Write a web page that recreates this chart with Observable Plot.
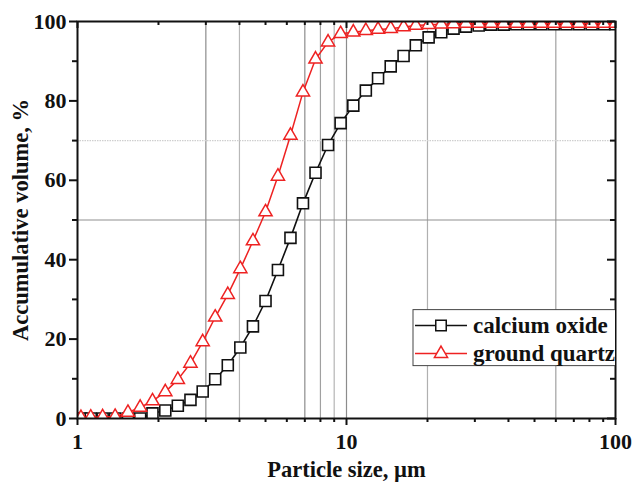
<!DOCTYPE html>
<html>
<head>
<meta charset="utf-8">
<script src="https://cdn.jsdelivr.net/npm/d3@7"></script>
<script src="https://cdn.jsdelivr.net/npm/@observablehq/plot@0.6"></script>
<style>
  html, body { margin: 0; padding: 0; background: #fff; }
</style>
</head>
<body>
<div id="chart"></div>
<script>
// ---- data ----
const sizes = [1.03, 1.12, 1.24, 1.38, 1.54, 1.71, 1.90, 2.12, 2.36, 2.63, 2.92, 3.25, 3.62, 4.03, 4.49, 5.00, 5.56, 6.19, 6.89, 7.67, 8.54, 9.51, 10.6, 11.8, 13.1, 14.6, 16.3, 18.1, 20.2, 22.5, 25.0, 27.8, 31.0, 34.5, 38.4, 42.8, 47.6, 53.0, 59.0, 65.7, 73.2, 81.5, 90.7, 100];
const calciumOxide = [0, 0, 0, 0, 0, 0, 1.3, 2.0, 3.2, 4.7, 6.8, 9.9, 13.4, 17.9, 23.2, 29.6, 37.4, 45.5, 54.2, 61.9, 68.9, 74.4, 78.8, 82.6, 85.7, 88.7, 91.3, 94.0, 96.0, 97.3, 98.2, 98.7, 99.0, 99.2, 99.2, 99.3, 99.3, 99.3, 99.3, 99.3, 99.3, 99.3, 99.3, 99.3];
const groundQuartz = [0.2, 0.3, 0.4, 0.5, 1.5, 2.8, 4.4, 6.7, 9.8, 13.9, 19.3, 25.5, 31.2, 37.7, 44.7, 52.0, 61.0, 71.3, 82.2, 90.5, 94.8, 96.9, 97.3, 97.7, 98.0, 98.2, 98.6, 99.0, 99.2, 99.3, 99.4, 99.5, 99.5, 99.5, 99.5, 99.5, 99.5, 99.5, 99.5, 99.5, 99.5, 99.5, 99.5, 99.5];
const seriesNames = ["calcium oxide", "ground quartz"];
const xMajorTicks = [1, 10, 100];
const xMinorTicks = [2, 3, 4, 5, 6, 7, 8, 9, 20, 30, 40, 50, 60, 70, 80, 90];
const yMajorTicks = [0, 20, 40, 60, 80, 100];
const yMinorTicks = [10, 30, 50, 70, 90];
const gridX = [3, 4, 7, 8, 9, 10, 20, 60];
const gridXColors = ["#8c8c8c", "#b8b8b8", "#8c8c8c", "#a0a0a0", "#b4b4b4", "#8c8c8c", "#b0b0b0", "#a0a0a0"];
const xLabel = "Particle size, \u00b5m";
const yLabel = "Accumulative volume, %";

// ---- table ----
const rows = (name, vals) => sizes.map((s, i) => ({series: name, size: s, value: vals[i]}));
const caRows = rows(seriesNames[0], calciumOxide);
const qzRows = rows(seriesNames[1], groundQuartz);

// ---- layout ----
const W = 634, H = 482;
const mTop = 21, mRight = 19, mBottom = 64, mLeft = 77;
const plotW = W - mLeft - mRight, plotH = H - mTop - mBottom;
const FONT = "'Liberation Serif', 'Times New Roman', serif";
const RED = "#ee2222";
const BLACK = "#111";

function legendMark(index, scales, values, dimensions) {
  const {width, marginRight, marginTop} = dimensions;
  const right = width - marginRight;
  const g = d3.create("svg:g");
  const clipId = "legclip";
  g.append("clipPath").attr("id", clipId).append("rect")
    .attr("x", mLeft).attr("y", marginTop).attr("width", right - mLeft).attr("height", plotH);
  const box = g.append("g").attr("clip-path", `url(#${clipId})`);
  const x0 = right - 202, y0 = scales.y(27.3);
  box.append("rect").attr("x", x0).attr("y", y0).attr("width", 210).attr("height", 56)
    .attr("fill", "white").attr("stroke", "#444").attr("stroke-width", 1);
  const entries = [
    {name: seriesNames[0], color: BLACK, sym: d3.symbolSquare, dy: 16},
    {name: seriesNames[1], color: RED, sym: d3.symbolTriangle, dy: 44}
  ];
  for (const e of entries) {
    const yy = y0 + e.dy;
    box.append("line").attr("x1", x0 + 2).attr("x2", x0 + 54).attr("y1", yy).attr("y2", yy)
      .attr("stroke", e.color).attr("stroke-width", 1.5);
    box.append("path").attr("d", d3.symbol(e.sym, e.sym === d3.symbolSquare ? 110 : 75)())
      .attr("transform", `translate(${x0 + 28},${yy})`)
      .attr("fill", "white").attr("stroke", e.color).attr("stroke-width", 1.5);
    box.append("text").attr("x", x0 + 60).attr("y", yy).attr("dy", "0.33em")
      .attr("text-anchor", "start")
      .attr("font-family", FONT).attr("font-weight", "bold").attr("font-size", 23)
      .attr("fill", "#111").text(e.name);
  }
  return g.node();
}

const chart = Plot.plot({
  width: W,
  height: H,
  marginTop: mTop, marginRight: mRight, marginBottom: mBottom, marginLeft: mLeft,
  style: {fontFamily: FONT, fontWeight: "bold", background: "white", color: "#111"},
  x: {type: "log", domain: [1, 100], axis: null},
  y: {domain: [0, 100], axis: null},
  marks: [
    // reference grid lines
    Plot.ruleX(gridX, {x: d => d, stroke: (d, i) => gridXColors[i], strokeWidth: 1.2}),
    Plot.ruleY([70], {stroke: "#cfcfcf", strokeWidth: 1.2, strokeDasharray: "1.5,1"}),
    Plot.ruleY([50], {stroke: "#8f8f8f", strokeWidth: 1.2}),
    // series
    Plot.line(caRows, {x: "size", y: "value", stroke: BLACK, strokeWidth: 1.6, clip: true}),
    Plot.dot(caRows, {x: "size", y: "value", symbol: "square", r: 6.2, fill: "white", stroke: BLACK, strokeWidth: 1.6, clip: true}),
    Plot.line(qzRows, {x: "size", y: "value", stroke: RED, strokeWidth: 1.5, clip: true}),
    Plot.dot(qzRows, {x: "size", y: "value", symbol: "triangle", r: 4.9, fill: "white", stroke: RED, strokeWidth: 1.5, clip: true}),
    // bottom axis (outward ticks)
    Plot.axisX({ticks: xMajorTicks, tickSize: 7, tickPadding: 8, strokeWidth: 2, fontSize: 22, tickFormat: d => String(d), label: null}),
    Plot.axisX({ticks: xMinorTicks, tickSize: 4, strokeWidth: 2, tickFormat: () => "", label: null}),
    // top axis (inward ticks)
    Plot.tickX(xMajorTicks, {x: d => d, insetBottom: plotH - 7, strokeWidth: 2, stroke: BLACK}),
    Plot.tickX(xMinorTicks, {x: d => d, insetBottom: plotH - 4, strokeWidth: 2, stroke: BLACK}),
    // left axis (outward ticks)
    Plot.axisY({ticks: yMajorTicks, tickSize: 8, tickPadding: 3, strokeWidth: 2, fontSize: 22, tickFormat: d => String(d), label: null}),
    Plot.axisY({ticks: yMinorTicks, tickSize: 5, strokeWidth: 2, tickFormat: () => "", label: null}),
    // right axis (inward ticks)
    Plot.tickY(yMajorTicks, {y: d => d, insetLeft: plotW - 8, strokeWidth: 2, stroke: BLACK}),
    Plot.tickY(yMinorTicks, {y: d => d, insetLeft: plotW - 5, strokeWidth: 2, stroke: BLACK}),
    // frame
    Plot.frame({stroke: BLACK, strokeWidth: 2}),
    // axis titles
    Plot.text([xLabel], {text: d => d, frameAnchor: "bottom", dy: 58, fontSize: 22.5, fill: "#111", textAnchor: "middle"}),
    Plot.text([yLabel], {text: d => d, frameAnchor: "left", rotate: -90, dx: -57, fontSize: 22.5, fill: "#111", textAnchor: "middle"}),
    legendMark
  ]
});
document.getElementById("chart").append(chart);
</script>
</body>
</html>
